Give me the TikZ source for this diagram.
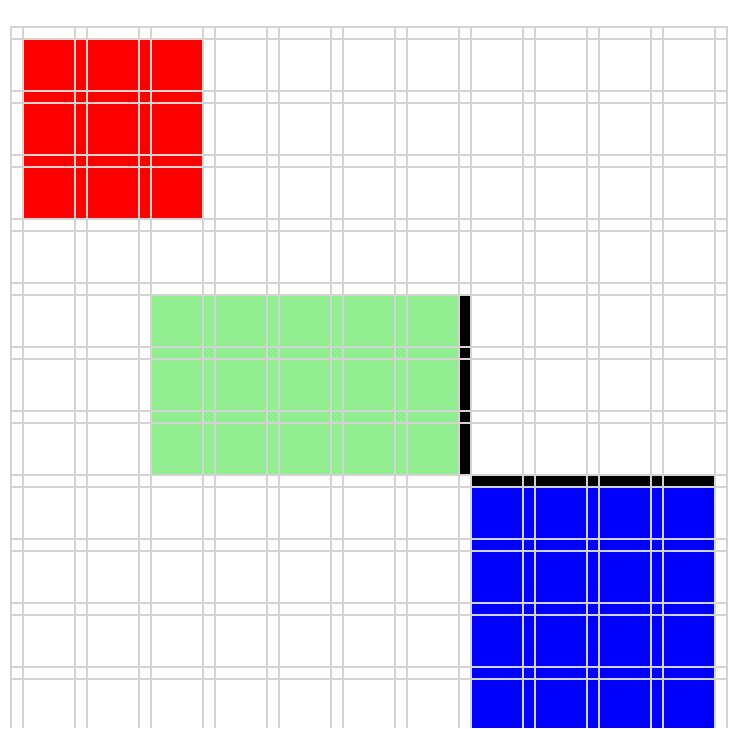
\documentclass[tikz,border=0pt]{standalone}
\definecolor{gridgray}{RGB}{211,211,211}
\definecolor{lightgreen}{RGB}{144,238,144}
\tikzset{
  gridline/.style={draw=gridgray, line width=2pt},
  blockfill/.style={draw=none}
}
\begin{document}
\begin{tikzpicture}[x=1pt,y=-1pt]
\useasboundingbox (0,0) rectangle (738,728);
\fill[white] (0,0) rectangle (738,728);
% blocks
\fill[red, blockfill] (23,39) rectangle (203,219);
\fill[lightgreen, blockfill] (151,295) rectangle (459,475);
\fill[black, blockfill] (459,295) rectangle (471,475);
\fill[black, blockfill] (471,475) rectangle (715,487);
\fill[blue, blockfill] (471,487) rectangle (715,728);
% grid
\foreach \k in {0,...,11} {
  \draw[gridline] ({11+64*\k},26) -- ({11+64*\k},728);
  \draw[gridline] ({23+64*\k},26) -- ({23+64*\k},728);
}
\foreach \k in {0,...,10} {
  \draw[gridline] (10,{27+64*\k}) -- (728,{27+64*\k});
  \draw[gridline] (10,{39+64*\k}) -- (728,{39+64*\k});
}
\end{tikzpicture}
\end{document}
